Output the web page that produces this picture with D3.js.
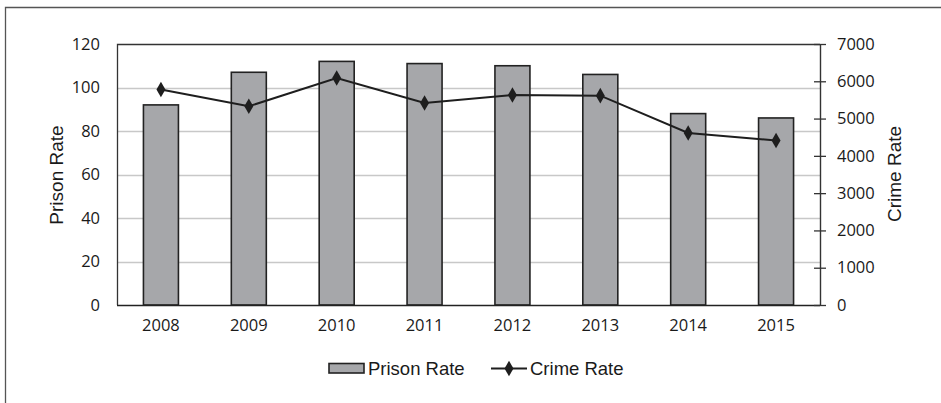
<!DOCTYPE html>
<html>
<head>
<meta charset="utf-8">
<script src="https://cdn.jsdelivr.net/npm/d3@7"></script>
<style>
  html, body { margin: 0; padding: 0; background: #fff; }
  svg { display: block; }
</style>
</head>
<body>
<svg id="chart" width="941" height="403"></svg>
<script>
const years = ["2008", "2009", "2010", "2011", "2012", "2013", "2014", "2015"];
const prisonRate = [92, 107, 112, 111, 110, 106, 88, 86];
const crimeRate = [5780, 5330, 6090, 5420, 5630, 5615, 4615, 4410];
const leftTicks = [0, 20, 40, 60, 80, 100, 120];
const rightTicks = [0, 1000, 2000, 3000, 4000, 5000, 6000, 7000];

const svg = d3.select("#chart");
const W = 941, H = 403;
const plot = { left: 117, right: 820, top: 44, bottom: 305 };
const tickFont = "'Open Sans', sans-serif";
const labelFont = "'Liberation Sans', Arial, sans-serif";
const tickSize = 16.5;
const labelSize = 19;

// outer frame (left and top visible)
svg.append("path")
  .attr("d", `M5.5,${H} L5.5,7.5 L${W},7.5`)
  .attr("fill", "none").attr("stroke", "#555").attr("stroke-width", 1.3);

const x = d3.scaleBand().domain(years).range([plot.left, plot.right]).paddingInner(0).paddingOuter(0);
const yL = d3.scaleLinear().domain([0, 120]).range([plot.bottom, plot.top]);
const yR = d3.scaleLinear().domain([0, 7000]).range([plot.bottom, plot.top]);

// gridlines
svg.append("g").selectAll("line").data(leftTicks.filter(d => d > 0 && d < 120)).join("line")
  .attr("x1", plot.left).attr("x2", plot.right)
  .attr("y1", d => Math.round(yL(d)) + 0.5).attr("y2", d => Math.round(yL(d)) + 0.5)
  .attr("stroke", "#c8c8c8").attr("stroke-width", 1.3);

// plot frame top & left
svg.append("path")
  .attr("d", `M${plot.left + 0.5},${plot.bottom} L${plot.left + 0.5},${plot.top + 0.5} L${plot.right},${plot.top + 0.5}`)
  .attr("fill", "none").attr("stroke", "#333").attr("stroke-width", 1.3);

// bars
const barW = 35;
svg.append("g").selectAll("rect").data(years).join("rect")
  .attr("x", d => x(d) + x.bandwidth() / 2 - barW / 2)
  .attr("y", (d, i) => yL(prisonRate[i]))
  .attr("width", barW)
  .attr("height", (d, i) => plot.bottom - yL(prisonRate[i]))
  .attr("fill", "#a6a7aa").attr("stroke", "#222").attr("stroke-width", 1.6);

// baseline
svg.append("line")
  .attr("x1", plot.left).attr("x2", plot.right)
  .attr("y1", plot.bottom + 0.5).attr("y2", plot.bottom + 0.5)
  .attr("stroke", "#222").attr("stroke-width", 1.4);

// crime line
const line = d3.line().x((d, i) => x(years[i]) + x.bandwidth() / 2).y(d => yR(d));
svg.append("path").datum(crimeRate).attr("d", line)
  .attr("fill", "none").attr("stroke", "#1e1e1e").attr("stroke-width", 2);
const diamond = d3.symbol().type(d3.symbolDiamond).size(70);
svg.append("g").selectAll("path").data(crimeRate).join("path")
  .attr("transform", (d, i) => `translate(${x(years[i]) + x.bandwidth() / 2},${yR(d)})`)
  .attr("d", diamond).attr("fill", "#1e1e1e");

// left axis
const axL = svg.append("g").attr("transform", `translate(${plot.left},0)`)
  .call(d3.axisLeft(yL).tickValues(leftTicks).tickSize(0).tickPadding(17));
axL.select(".domain").remove();
axL.selectAll("text").attr("font-family", tickFont).attr("font-size", tickSize).attr("fill", "#1a1a1a");

// right axis
const axR = svg.append("g").attr("transform", `translate(${plot.right},0)`)
  .call(d3.axisRight(yR).tickValues(rightTicks).tickFormat(d3.format("d")).tickSize(6).tickPadding(11));
axR.select(".domain").attr("stroke", "#333").attr("stroke-width", 1.4).attr("d", `M0.5,${plot.top}V${plot.bottom + 1}`);
axR.selectAll(".tick line").attr("x1", -6).attr("x2", 6).attr("stroke", "#333").attr("stroke-width", 1.3);
axR.selectAll("text").attr("font-family", tickFont).attr("font-size", tickSize).attr("fill", "#1a1a1a");

// x axis labels
const axX = svg.append("g").attr("transform", `translate(0,${plot.bottom})`)
  .call(d3.axisBottom(x).tickSize(0).tickPadding(14));
axX.select(".domain").remove();
axX.selectAll("text").attr("font-family", tickFont).attr("font-size", tickSize).attr("fill", "#1a1a1a");

// axis titles
svg.append("text").attr("transform", `translate(63,175) rotate(-90)`)
  .attr("text-anchor", "middle").attr("font-family", labelFont).attr("font-size", labelSize)
  .attr("fill", "#1a1a1a").text("Prison Rate");
svg.append("text").attr("transform", `translate(901,174) rotate(-90)`)
  .attr("text-anchor", "middle").attr("font-family", labelFont).attr("font-size", labelSize)
  .attr("fill", "#1a1a1a").text("Crime Rate");

// legend
const lg = svg.append("g");
lg.append("rect").attr("x", 329).attr("y", 363.5).attr("width", 35).attr("height", 9.5)
  .attr("fill", "#a6a7aa").attr("stroke", "#222").attr("stroke-width", 1.6);
lg.append("text").attr("x", 368).attr("y", 375).attr("font-family", labelFont)
  .attr("font-size", 18.5).attr("fill", "#1a1a1a").text("Prison Rate");
lg.append("line").attr("x1", 491).attr("x2", 527).attr("y1", 368.5).attr("y2", 368.5)
  .attr("stroke", "#1e1e1e").attr("stroke-width", 2);
lg.append("path").attr("transform", "translate(509,368.5)").attr("d", diamond).attr("fill", "#1e1e1e");
lg.append("text").attr("x", 530).attr("y", 375).attr("font-family", labelFont)
  .attr("font-size", 18.5).attr("fill", "#1a1a1a").text("Crime Rate");
</script>
</body>
</html>
